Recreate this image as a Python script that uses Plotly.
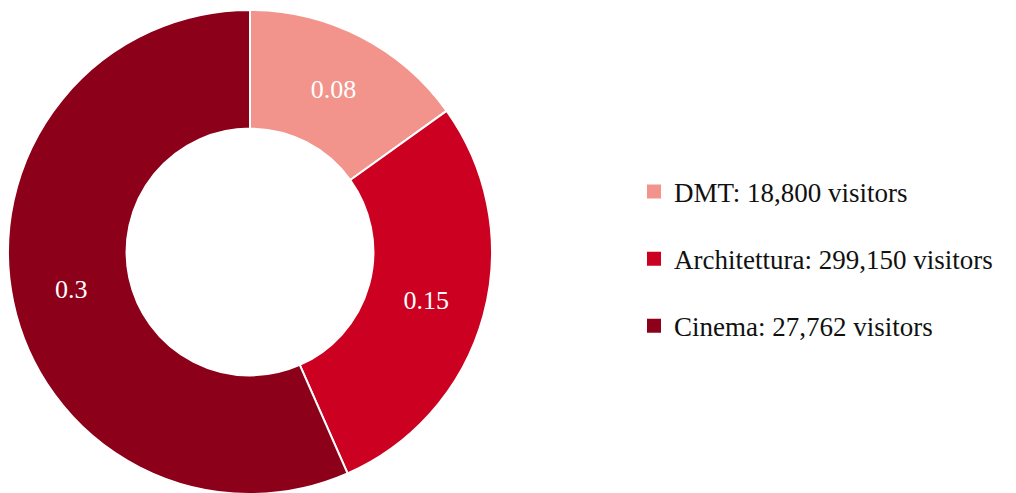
import plotly.graph_objects as go

categories = ["DMT", "Architettura", "Cinema"]
values = [0.08, 0.15, 0.3]
visitors = ["18,800", "299,150", "27,762"]
colors = ["#F2948C", "#CC0020", "#8C001A"]

FONT = "Palatino Linotype, Book Antiqua, Palatino, Liberation Serif, serif"

fig = go.Figure()
fig.add_trace(go.Pie(
    labels=categories,
    values=values,
    hole=0.51,
    sort=False,
    direction="clockwise",
    rotation=0,
    textinfo="value",
    textposition="inside",
    insidetextorientation="horizontal",
    textfont=dict(family=FONT, size=26, color="white"),
    marker=dict(colors=colors, line=dict(color="white", width=2)),
    showlegend=False,
    domain=dict(x=[0, 484 / 1016], y=[0, 1]),
))

# legend entries (one per category) with spacing between them
for i, (c, v, col) in enumerate(zip(categories, visitors, colors)):
    fig.add_trace(go.Scatter(
        x=[None], y=[None], mode="markers",
        marker=dict(symbol="square", size=14, color=col),
        name=f"{c}: {v} visitors",
        legendgroup=f"g{i}",
        showlegend=True,
    ))

fig.update_layout(
    width=1016, height=493,
    margin=dict(l=0, r=0, t=2, b=7),
    paper_bgcolor="white", plot_bgcolor="white",
    font=dict(family=FONT, size=27, color="#111111"),
    xaxis=dict(visible=False), yaxis=dict(visible=False),
    legend=dict(
        x=626 / 1016, xanchor="left",
        y=(493 - 7 - 251) / 484, yanchor="middle",
        traceorder="grouped", tracegroupgap=29,
        font=dict(family=FONT, size=27, color="#111111"),
        bgcolor="rgba(0,0,0,0)",
        itemsizing="trace",
    ),
)

fig.write_html("out.html")
